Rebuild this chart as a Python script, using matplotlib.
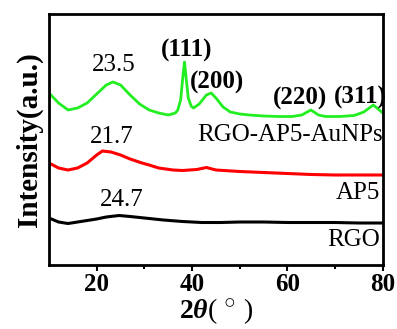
import numpy as np
import matplotlib
matplotlib.use('Agg')
import matplotlib.pyplot as plt

plt.rcParams['font.family'] = 'Liberation Serif'
plt.rcParams['mathtext.fontset'] = 'custom'
plt.rcParams['mathtext.it'] = 'Liberation Serif:italic:bold'
plt.rcParams['mathtext.rm'] = 'Liberation Serif:bold'
plt.rcParams['mathtext.bf'] = 'Liberation Serif:bold'

# XRD patterns (offset intensities, a.u.)
rgo_x = [10, 12, 14, 16, 18, 20, 22, 24.7, 27, 29, 31, 34, 38, 42, 46, 50, 55, 60, 65, 70, 75, 80]
rgo_y = [47, 43, 41.5, 43, 44.5, 46, 48, 49.5, 48.5, 47.5, 46.5, 45, 43.5, 42.5, 42.5, 43, 43, 42.5, 42.5, 42.5, 42, 42]

ap5_x = [10, 12, 14, 16, 18, 20, 21.2, 23, 25, 27, 29.5, 31, 33, 36, 38, 41, 43, 45, 50, 55, 60, 65, 70, 75, 80]
ap5_y = [102, 97, 95, 97, 102, 110, 114, 113, 110, 106, 102, 100, 97, 95, 94.5, 95.5, 97.5, 95, 93.5, 92.5, 91.5, 90.5, 90, 90, 90]

au_x = [10, 12, 14, 16, 18, 20, 22, 23.4, 25, 27, 29, 31, 33, 35, 36.5, 37.0, 37.6, 38.0, 38.4,
        38.8, 39.2, 39.8, 40.3, 41.5, 43, 44, 45, 46.5, 48, 50, 52, 55, 58, 61, 63, 64.9,
        66.5, 68, 71, 74, 76, 78, 79, 80]
au_y = [172, 162, 155, 157, 162, 171, 180, 183, 180, 170, 161, 155, 152, 150, 152, 155, 165, 185, 203,
        185, 167, 159, 157, 161, 170, 172, 167, 158, 153, 151, 150, 149, 148.5, 148.5, 150, 155,
        150, 148.5, 148.5, 149.5, 153, 160, 156, 152]

xticks_major = [20, 40, 60, 80]
xticks_minor = [30, 50, 70]

fig = plt.figure(figsize=(3.97, 3.29), dpi=100)
ax = fig.add_axes([0.1234, 0.1945, 0.841, 0.763])

ax.plot(rgo_x, rgo_y, color='black', lw=2.2)
ax.plot(ap5_x, ap5_y, color='#ff0000', lw=2.2)
ax.plot(au_x, au_y, color='#22ee22', lw=2.0)

ax.set_xlim(10, 80)
ax.set_ylim(0, 251)
ax.set_xticks(xticks_major)
ax.set_xticks(xticks_minor, minor=True)
ax.set_yticks([])
ax.tick_params(axis='x', which='major', direction='out', length=4, width=1.5,
               labelsize=18, pad=2)
ax.tick_params(axis='x', which='minor', direction='out', length=3, width=1.5)
for lab in ax.get_xticklabels():
    lab.set_fontweight('bold')
for sp in ax.spines.values():
    sp.set_linewidth(2)

ax.set_ylabel('Intensity(a.u.)', fontsize=21, fontweight='bold', labelpad=4)
ax.set_xlabel(r'$\mathit{2\theta}$( $^{\bigcirc}$ )', fontsize=20, labelpad=0)

# annotations
fs = 18
ax.text(23.6, 200, '23.5', fontsize=fs, ha='center', va='center')
ax.text(38.9, 215, '(111)', fontsize=fs, fontweight='bold', ha='center', va='center')
ax.text(45.2, 183, '(200)', fontsize=fs, fontweight='bold', ha='center', va='center')
ax.text(62.6, 167, '(220)', fontsize=fs, fontweight='bold', ha='center', va='center')
ax.text(75.2, 168, '(311)', fontsize=fs, fontweight='bold', ha='center', va='center')
ax.text(60.5, 130, 'RGO-AP5-AuNPs', fontsize=fs, ha='center', va='center')
ax.text(23.2, 128, '21.7', fontsize=fs, ha='center', va='center')
ax.text(74.8, 72, 'AP5', fontsize=fs, ha='center', va='center')
ax.text(73.9, 25, 'RGO', fontsize=fs, ha='center', va='center')
ax.text(25.3, 65, '24.7', fontsize=fs, ha='center', va='center')

fig.savefig('out.png', dpi=100)
